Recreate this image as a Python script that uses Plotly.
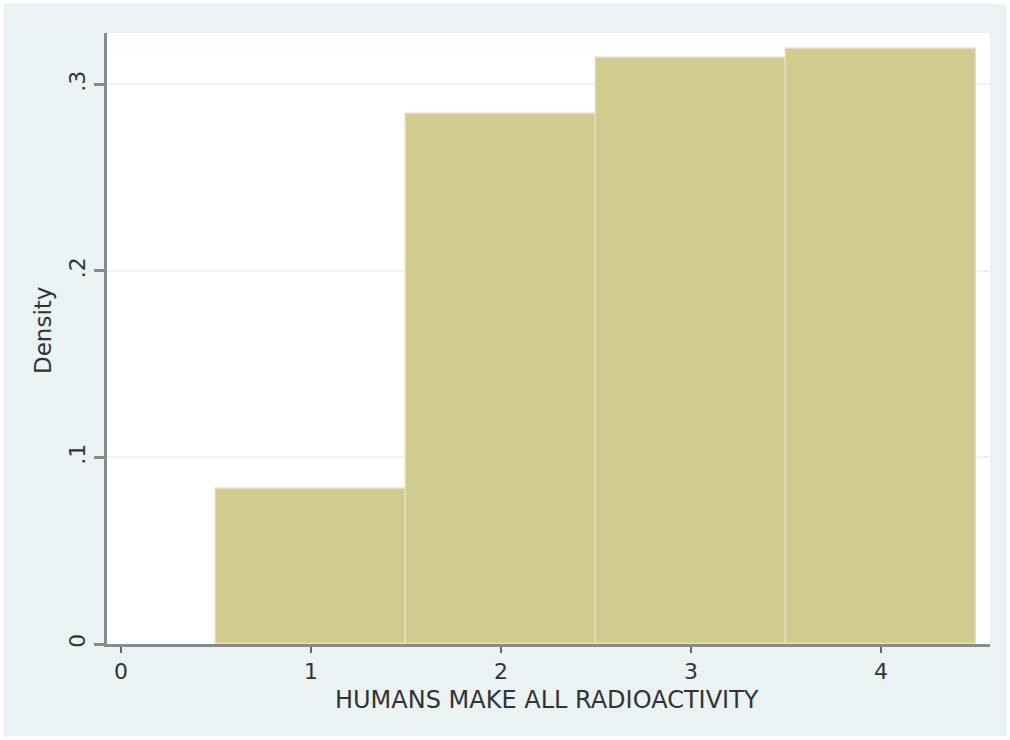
import plotly.graph_objects as go

# Histogram of responses (density, bin width 1)
categories = [1, 2, 3, 4]
density = [0.083, 0.284, 0.314, 0.319]

x_ticks = [0, 1, 2, 3, 4]
x_tick_labels = ["0", "1", "2", "3", "4"]
y_ticks = [0, 0.1, 0.2, 0.3]
y_tick_labels = ["0", ".1", ".2", ".3"]

bar_color = "#D1CB90"
edge_color = "#E4E0B6"
outer_bg = "#EAF2F3"
axis_gray = "#8A8A8A"
text_color = "#333333"
font_family = "DejaVu Sans, Liberation Sans, sans-serif"

W, H = 1010, 740
ML, MR, MT, MB = 107, 20, 33, 96
PW, PH = W - ML - MR, H - MT - MB

fig = go.Figure()
fig.add_trace(go.Bar(
    x=categories,
    y=density,
    width=1,
    marker=dict(color=bar_color, line=dict(color=edge_color, width=1.5)),
    hoverinfo="skip",
))

fig.update_layout(
    width=W,
    height=H,
    margin=dict(l=ML, r=MR, t=MT, b=MB),
    paper_bgcolor=outer_bg,
    plot_bgcolor="white",
    showlegend=False,
    bargap=0,
    font=dict(family=font_family, size=22, color=text_color),
)

fig.update_xaxes(
    range=[-0.074, 4.574],
    tickmode="array",
    tickvals=x_ticks,
    ticktext=x_tick_labels,
    ticks="outside",
    ticklen=6,
    tickwidth=2,
    tickcolor="#666666",
    showline=True,
    linecolor=axis_gray,
    linewidth=3,
    showgrid=False,
    zeroline=False,
    tickfont=dict(size=22, color=text_color),
)

fig.update_yaxes(
    range=[0, 0.3276],
    tickmode="array",
    tickvals=y_ticks,
    ticktext=y_tick_labels,
    tickangle=-90,
    ticks="outside",
    ticklen=10,
    tickwidth=3,
    tickcolor=axis_gray,
    showline=True,
    linecolor=axis_gray,
    linewidth=3,
    showgrid=True,
    gridcolor="#EEF4F5",
    gridwidth=2,
    zeroline=False,
    tickfont=dict(size=22, color=text_color),
)

# Axis titles placed as annotations for tight Stata-like spacing
fig.add_annotation(
    text="HUMANS MAKE ALL RADIOACTIVITY",
    xref="paper", yref="paper",
    x=(547 - ML) / PW, y=-(700 - (MT + PH)) / PH,
    xanchor="center", yanchor="middle",
    showarrow=False,
    font=dict(size=24, color=text_color),
)
fig.add_annotation(
    text="Density",
    xref="paper", yref="paper",
    x=(43 - ML) / PW, y=(MT + PH - 331) / PH,
    xanchor="center", yanchor="middle",
    textangle=-90,
    showarrow=False,
    font=dict(size=23, color=text_color),
)

# Thin white frame around the whole graph region
fig.add_shape(
    type="rect",
    xref="paper", yref="paper",
    x0=-ML / PW, x1=(W - ML) / PW,
    y0=-MB / PH, y1=(H - MB) / PH,
    line=dict(color="white", width=7),
    fillcolor="rgba(0,0,0,0)",
    layer="above",
)

fig.write_html("out.html")
